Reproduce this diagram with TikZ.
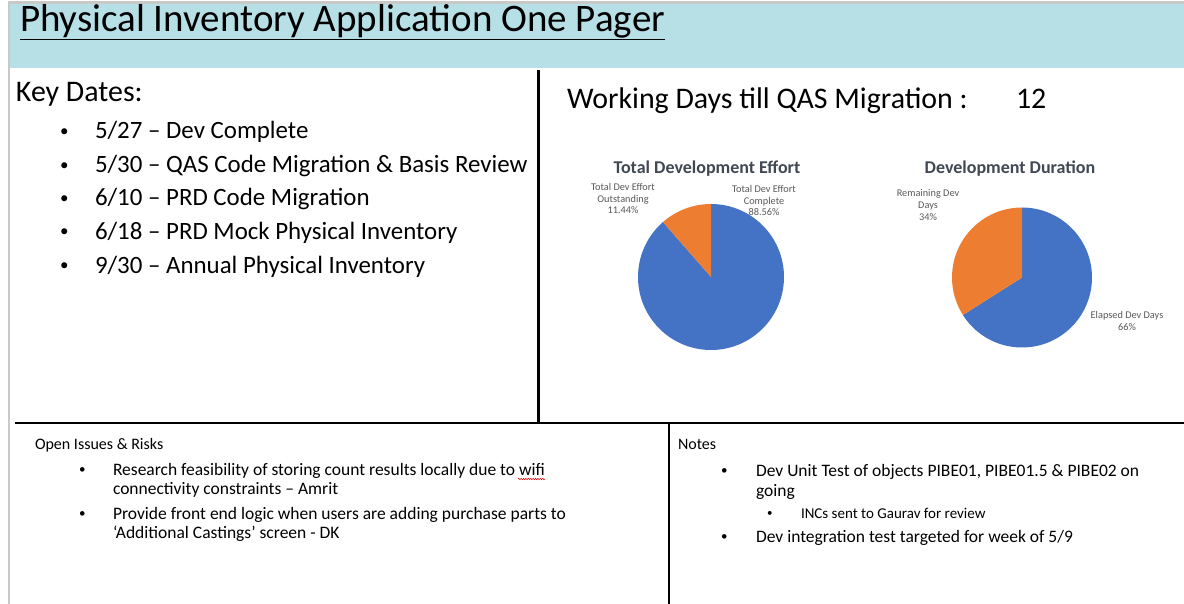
\documentclass[tikz,border=0pt]{standalone}
\usepackage{fontspec}
\setmainfont{Carlito}
\usetikzlibrary{decorations.pathmorphing}
\definecolor{teal1}{HTML}{B7E0E6}
\definecolor{frame1}{HTML}{C9C9C9}
\definecolor{pieblue}{HTML}{4472C4}
\definecolor{pieorange}{HTML}{ED7D31}
\definecolor{charttitle}{HTML}{404853}
\definecolor{chartlabel}{HTML}{595959}
\tikzset{
  txt/.style={anchor=base west, inner sep=0pt, outer sep=0pt, text=black},
  bigtxt/.style={txt, font=\fontsize{29.9}{35}\selectfont},
  datetxt/.style={txt, font=\fontsize{24.9}{29}\selectfont},
  datebul/.style={txt, font=\fontsize{17}{20}\selectfont, yshift=2.5pt},
  smalltxt/.style={txt, font=\fontsize{16}{19}\selectfont},
  itemtxt/.style={txt, font=\fontsize{17.5}{20}\selectfont},
  itembul/.style={txt, font=\fontsize{13}{16}\selectfont, yshift=1.5pt},
  subtxt/.style={txt, font=\fontsize{15}{17}\selectfont},
  subbul/.style={txt, font=\fontsize{11}{13}\selectfont, yshift=1.2pt},
  ctitle/.style={anchor=base, inner sep=0pt, text=charttitle, font=\bfseries\fontsize{18}{21}\selectfont},
  clabel/.style={align=center, inner sep=0pt, text=chartlabel, font=\fontsize{10.3}{11.9}\selectfont},
  divider/.style={line width=2.2pt, black},
}
\begin{document}
\begin{tikzpicture}[x=1pt,y=1pt]
\useasboundingbox (0,0) rectangle (1184,-604);
\fill[white] (0,0) rectangle (1184,-604);
% header band and frame
\fill[teal1] (9.5,-3.5) rectangle (1184,-68.5);
\draw[frame1, line width=3pt] (8,-3) -- (1184,-3);
\draw[frame1, line width=2pt] (8.5,-2) -- (8.5,-604);
% title
\node[txt, font=\fontsize{39}{45}\selectfont] (title) at (20,-32) {Physical Inventory Application One Pager};
\draw[line width=1.3pt] ([yshift=-7.3pt]title.base west) -- ([yshift=-7.3pt]title.base east);
% dividers
\coordinate (v1t) at (538.5,-70);
\coordinate (v1b) at (538.5,-423.3);
\coordinate (hl) at (15,-423.3);
\coordinate (hr) at (1184,-423.3);
\coordinate (v2t) at (669,-423.3);
\coordinate (v2b) at (669,-604);
\draw[divider] (v1t) -- (v1b);
\draw[divider] (hl) -- (hr);
\draw[divider] (v2t) -- (v2b);
% key dates
\node[bigtxt] (kd) at (16,-102) {Key Dates:};
\foreach \y/\t [count=\i] in {139/{5/27 – Dev Complete},
                 173/{5/30 – QAS Code Migration \& Basis Review},
                 206/{6/10 – PRD Code Migration},
                 239.5/{6/18 – PRD Mock Physical Inventory},
                 273/{9/30 – Annual Physical Inventory}}{
  \node[datebul] (kdb\i) at (60,-\y) {•};
  \node[datetxt] (kdt\i) at (95,-\y) {\t};
}
% working days
\node[bigtxt] (wd) at (567,-108.5) {Working Days till QAS Migration :};
\node[bigtxt] (wdn) at (1016,-108.5) {12};
% chart 1
\node[ctitle] (c1t) at (707,-174) {Total Development Effort};
\coordinate (p1) at (711,-277);
\fill[pieblue] (p1) -- ++(131.18:73) arc[start angle=131.18, end angle=450, radius=73] -- cycle;
\fill[pieorange] (p1) -- ++(90:73) arc[start angle=90, end angle=131.18, radius=73] -- cycle;
\node[clabel] (c1a) at (623,-198.5) {Total Dev Effort\\Outstanding\\11.44\%};
\node[clabel] (c1b) at (764,-200.5) {Total Dev Effort\\Complete\\88.56\%};
% chart 2
\node[ctitle] (c2t) at (1010,-174) {Development Duration};
\coordinate (p2) at (1022,-277.5);
\fill[pieblue] (p2) -- ++(212.4:70) arc[start angle=212.4, end angle=450, radius=70] -- cycle;
\fill[pieorange] (p2) -- ++(90:70) arc[start angle=90, end angle=212.4, radius=70] -- cycle;
\node[clabel] (c2a) at (928,-205) {Remaining Dev\\Days\\34\%};
\node[clabel] (c2b) at (1127,-321) {Elapsed Dev Days\\66\%};
% open issues
\node[smalltxt] (oi) at (35,-449) {Open Issues \& Risks};
\node[itembul] (oib1) at (79,-475) {•};
\node[itemtxt] (oit1) at (113,-475) {Research feasibility of storing count results locally due to wifi};
\node[itemtxt] (oit1b) at (113,-494) {connectivity constraints – Amrit};
\node[itembul] (oib2) at (79,-519) {•};
\node[itemtxt] (oit2) at (113,-519) {Provide front end logic when users are adding purchase parts to};
\node[itemtxt] (oit2b) at (113,-538) {‘Additional Castings’ screen - DK};
\coordinate (wl) at ([xshift=-27pt,yshift=-4pt]oit1.base east);
\coordinate (wr) at ([yshift=-4pt]oit1.base east);
\draw[red!85!black, line width=0.5pt, decorate, decoration={snake, amplitude=0.7pt, segment length=2.4pt}] (wl) -- (wr);
% notes
\node[smalltxt] (nt) at (678,-449) {Notes};
\node[itembul] (nb1) at (721,-476) {•};
\node[itemtxt] (nt1) at (756,-476) {Dev Unit Test of objects PIBE01, PIBE01.5 \& PIBE02 on};
\node[itemtxt] (nt1b) at (756,-496) {going};
\node[subbul] (nsb) at (767,-518) {•};
\node[subtxt] (nst) at (801,-518) {INCs sent to Gaurav for review};
\node[itembul] (nb2) at (721,-542) {•};
\node[itemtxt] (nt2) at (756,-542) {Dev integration test targeted for week of 5/9};
\end{tikzpicture}
\end{document}
